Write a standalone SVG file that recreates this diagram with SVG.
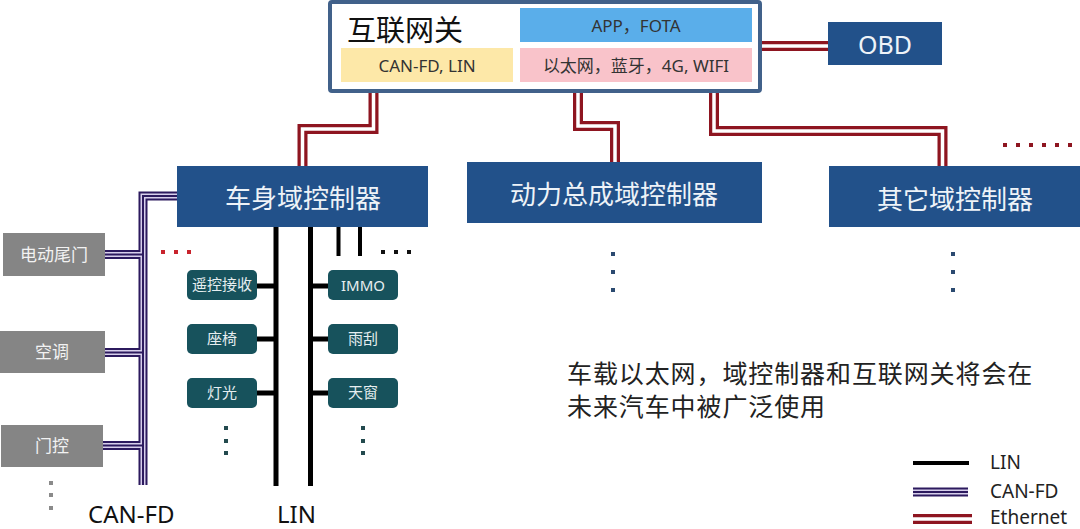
<svg xmlns="http://www.w3.org/2000/svg" width="1080" height="529" viewBox="0 0 1080 529">
<style>
text{font-family:"Noto Sans","Noto Sans CJK SC",sans-serif}
.cjk{font-family:"Noto Sans CJK SC","Noto Sans",sans-serif}
.navy{fill:#22518a}
.navyt{fill:#eef3f8;font-size:26px;text-anchor:middle}
.gray{fill:#858585}
.grayt{fill:#f2f2f2;font-size:17px;text-anchor:middle}
.teal{fill:#17525c}
.tealt{fill:#e6eef0;font-size:15px;text-anchor:middle}
.eth1{fill:none;stroke:#8e1520;stroke-width:10;stroke-linejoin:miter}
.eth2{fill:none;stroke:#ffffff;stroke-width:3.5;stroke-linejoin:miter}
.can1{fill:none;stroke:#2c1a5e;stroke-width:9}
.can2{fill:none;stroke:#d8d0ec;stroke-width:5}
.can3{fill:none;stroke:#2c1a5e;stroke-width:2}
.lin{fill:none;stroke:#000;stroke-width:5}
.lbl{font-size:17px;fill:#333;text-anchor:middle}
</style>
<rect width="1080" height="529" fill="#fff"/>

<g id="connectors">
  <!-- Ethernet -->
  <path class="eth1" d="M373.5,90 V129 H302.5 V166"/>
  <path class="eth2" d="M373.5,90 V129 H302.5 V166"/>
  <path class="eth1" d="M578,90 V126 H615 V163"/>
  <path class="eth2" d="M578,90 V126 H615 V163"/>
  <path class="eth1" d="M714,90 V131 H942.5 V167"/>
  <path class="eth2" d="M714,90 V131 H942.5 V167"/>
  <path class="eth1" d="M760,46 H829"/>
  <path class="eth2" d="M760,46 H829"/>
  <!-- CAN-FD -->
  <path class="can1" d="M178,196 H143 V485 M105,254.5 H143 M105,352.5 H143 M103,445.5 H143"/>
  <path class="can2" d="M178,196 H143 V485 M105,254.5 H143 M105,352.5 H143 M103,445.5 H143"/>
  <path class="can3" d="M178,196 H143 V485 M105,254.5 H143 M105,352.5 H143 M103,445.5 H143"/>
  <!-- LIN -->
  <path class="lin" d="M276,227 V486 M310.5,227 V486 M257,286 H276 M257,339 H276 M257,393 H276 M310.5,286 H328 M310.5,339 H328 M310.5,393 H328"/>
  <path class="lin" style="stroke-width:4" d="M338.5,227 V256 M360,227 V256"/>
</g>

<g id="gateway">
  <rect x="330" y="2" width="430" height="89" fill="#fff" stroke="#41618a" stroke-width="4" rx="2"/>
  <text class="cjk" x="347" y="41" font-size="29" fill="#111">互联网关</text>
  <rect x="520" y="8" width="232" height="34" fill="#5aaeea"/>
  <text class="lbl" x="636" y="32">APP，FOTA</text>
  <rect x="341" y="48" width="172" height="34" fill="#fde8a8"/>
  <text class="lbl" x="427" y="72">CAN-FD, LIN</text>
  <rect x="520" y="48" width="232" height="34" fill="#f9c3ca"/>
  <text class="lbl" x="636" y="72">以太网，蓝牙，4G, WIFI</text>
</g>

<g id="obd">
  <rect class="navy" x="828" y="22" width="114" height="43"/>
  <text x="885" y="54" font-size="25" fill="#eef3f8" text-anchor="middle">OBD</text>
</g>

<g id="body-ctrl">
  <rect class="navy" x="177" y="166" width="251" height="61"/>
  <text class="navyt cjk" x="303" y="208">车身域控制器</text>
</g>
<g id="power-ctrl">
  <rect class="navy" x="467" y="162" width="295" height="61"/>
  <text class="navyt cjk" x="614" y="204">动力总成域控制器</text>
</g>
<g id="other-ctrl">
  <rect class="navy" x="829" y="166" width="251" height="61"/>
  <text class="navyt cjk" x="955" y="209">其它域控制器</text>
</g>

<g id="tailgate">
  <rect class="gray" x="3" y="233" width="102" height="43"/>
  <text class="grayt cjk" x="54" y="261">电动尾门</text>
</g>
<g id="ac">
  <rect class="gray" x="0" y="331" width="105" height="42"/>
  <text class="grayt cjk" x="52" y="358">空调</text>
</g>
<g id="door">
  <rect class="gray" x="1" y="425" width="102" height="42"/>
  <text class="grayt cjk" x="52" y="452">门控</text>
</g>

<g id="remote">
  <rect class="teal" x="187" y="270" width="70" height="30" rx="5"/>
  <text class="tealt cjk" x="222" y="290" font-size="13">遥控接收</text>
</g>
<g id="seat">
  <rect class="teal" x="187" y="324" width="70" height="30" rx="5"/>
  <text class="tealt cjk" x="222" y="344">座椅</text>
</g>
<g id="light">
  <rect class="teal" x="187" y="378" width="70" height="30" rx="5"/>
  <text class="tealt cjk" x="222" y="398">灯光</text>
</g>
<g id="immo">
  <rect class="teal" x="328" y="270" width="70" height="30" rx="5"/>
  <text class="tealt" x="363" y="291">IMMO</text>
</g>
<g id="wiper">
  <rect class="teal" x="328" y="324" width="70" height="30" rx="5"/>
  <text class="tealt cjk" x="363" y="344">雨刮</text>
</g>
<g id="sunroof">
  <rect class="teal" x="328" y="378" width="70" height="30" rx="5"/>
  <text class="tealt cjk" x="363" y="398">天窗</text>
</g>

<g id="dots">
  <g fill="#c8232c">
    <rect x="161" y="250" width="4" height="4"/><rect x="174" y="250" width="4" height="4"/><rect x="187" y="250" width="4" height="4"/>
  </g>
  <g fill="#111">
    <rect x="381" y="250" width="4" height="4"/><rect x="394" y="250" width="4" height="4"/><rect x="407" y="250" width="4" height="4"/>
  </g>
  <g fill="#8e1520">
    <rect x="1003" y="143" width="4" height="4"/><rect x="1016" y="143" width="4" height="4"/><rect x="1029" y="143" width="4" height="4"/><rect x="1042" y="143" width="4" height="4"/><rect x="1055" y="143" width="4" height="4"/><rect x="1068" y="143" width="4" height="4"/>
  </g>
  <g fill="#2b4a70">
    <rect x="611" y="252" width="4" height="4"/><rect x="611" y="270" width="4" height="4"/><rect x="611" y="288" width="4" height="4"/>
    <rect x="951" y="252" width="4" height="4"/><rect x="951" y="270" width="4" height="4"/><rect x="951" y="288" width="4" height="4"/>
  </g>
  <g fill="#234a4e">
    <rect x="224" y="426" width="4" height="4"/><rect x="224" y="439" width="4" height="4"/><rect x="224" y="451" width="4" height="4"/>
    <rect x="361" y="426" width="4" height="4"/><rect x="361" y="439" width="4" height="4"/><rect x="361" y="451" width="4" height="4"/>
  </g>
  <g fill="#8a8a8a">
    <rect x="49" y="481" width="4" height="4"/><rect x="49" y="493" width="4" height="4"/><rect x="49" y="506" width="4" height="4"/>
  </g>
</g>

<g id="labels">
  <text x="88" y="523" font-size="24" fill="#111">CAN-FD</text>
  <text x="277" y="523" font-size="24" fill="#111">LIN</text>
  <text class="cjk" x="567" y="383" font-size="25" letter-spacing="0.9" fill="#222">车载以太网，域控制器和互联网关将会在</text>
  <text class="cjk" x="567" y="416" font-size="25" letter-spacing="0.9" fill="#222">未来汽车中被广泛使用</text>
</g>

<g id="legend">
  <path d="M913,463 H969" stroke="#000" stroke-width="4"/>
  <text x="990" y="469" font-size="19" fill="#222">LIN</text>
  <path class="can1" d="M913,492 H968"/>
  <path class="can2" d="M913,492 H968"/>
  <path class="can3" d="M913,492 H968"/>
  <text x="990" y="498" font-size="19" fill="#222">CAN-FD</text>
  <path class="eth1" d="M913,519 H972"/>
  <path class="eth2" d="M913,519 H972"/>
  <text x="990" y="524" font-size="19" fill="#222">Ethernet</text>
</g>
</svg>
